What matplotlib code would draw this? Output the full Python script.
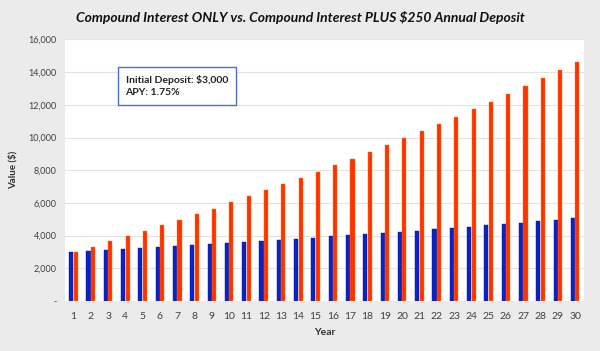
import numpy as np
import matplotlib.pyplot as plt

plt.rcParams['font.family'] = ['Lato', 'DejaVu Sans']

# Werte
years = list(range(1, 31))
interest_only = [3000, 3060, 3120, 3180, 3230, 3290, 3350, 3410, 3480, 3540,
                 3600, 3670, 3730, 3800, 3870, 3950, 4020, 4090, 4160, 4230,
                 4310, 4390, 4470, 4550, 4630, 4720, 4800, 4890, 4980, 5070]
interest_plus = [3000, 3320, 3650, 3980, 4310, 4630, 4970, 5310, 5650, 6040,
                 6400, 6770, 7140, 7520, 7910, 8300, 8700, 9110, 9540, 9980,
                 10410, 10840, 11270, 11720, 12190, 12660, 13130, 13620, 14130, 14640]
y_ticks = [0, 2000, 4000, 6000, 8000, 10000, 12000, 14000, 16000]
y_labels = ['-', '2,000', '4,000', '6,000', '8,000', '10,000', '12,000', '14,000', '16,000']

fig = plt.figure(figsize=(6, 3.51), dpi=100)
fig.patch.set_facecolor('#ecebeb')
ax = fig.add_axes([0.108, 0.1425, 0.865, 0.745])
ax.set_facecolor('white')

x = np.array(years)
w = 0.24
ax.bar(x - 0.13, interest_only, width=w, color='#0b22c4', edgecolor='#0a1aa0', linewidth=0.3, zorder=3)
ax.bar(x + 0.13, interest_plus, width=w, color='#ff3300', edgecolor='#ff7a10', linewidth=0.3, zorder=3)

ax.set_xlim(0.5, 30.5)
ax.set_ylim(0, 16000)
ax.set_xticks(years)
ax.set_xticklabels([str(y) for y in years], fontsize=7.5, color='#404040')
ax.set_yticks(y_ticks)
ax.set_yticklabels(y_labels, fontsize=6.5, color='#404040')
ax.tick_params(axis='x', length=0, pad=8)
ax.tick_params(axis='y', length=0, pad=6)
ax.yaxis.grid(True, color='#e3e3e3', linewidth=0.8, zorder=0)
for s in ax.spines.values():
    s.set_visible(False)

ax.set_xlabel('Year', fontsize=7.5, fontweight='bold', color='#303030', labelpad=5)
ax.set_ylabel('Value ($)', fontsize=7, fontweight='bold', color='#303030', labelpad=8)

fig.text(0.5, 0.95, 'Compound Interest ONLY vs. Compound Interest PLUS $250 Annual Deposit',
         ha='center', va='center', fontsize=10, style='italic', fontweight='bold', color='#111111')

ax.text(0.117, 0.822, 'Initial Deposit: $3,000\nAPY: 1.75%', transform=ax.transAxes,
        fontsize=7.5, fontweight='bold', color='#222222', va='center', ha='left', linespacing=1.45,
        bbox=dict(boxstyle='square,pad=0.75', facecolor='white', edgecolor='#4a6fd0', linewidth=1.0),
        zorder=5)

fig.savefig('out.png', dpi=100, facecolor=fig.get_facecolor())
